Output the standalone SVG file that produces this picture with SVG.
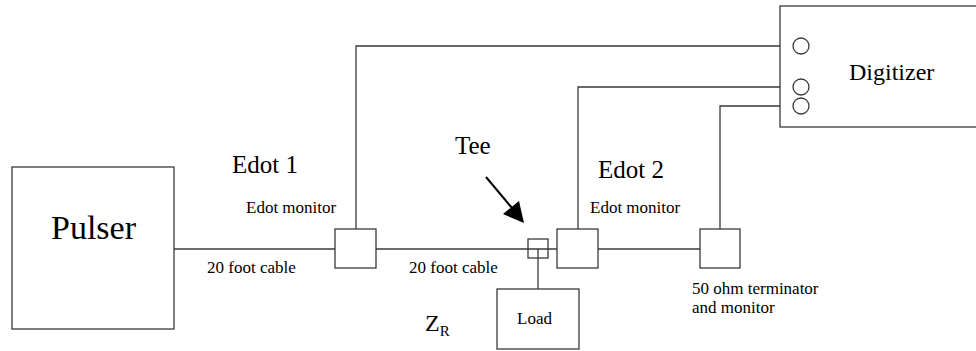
<svg xmlns="http://www.w3.org/2000/svg" width="976" height="351" viewBox="0 0 976 351">
<g id="connectors" fill="none" stroke="#3a3a3a" stroke-width="1.3">
<line x1="174" y1="249" x2="335" y2="249"/>
<line x1="376" y1="249" x2="557" y2="249"/>
<line x1="598" y1="249" x2="700" y2="249"/>
<polyline points="356,229 356,46 793,46"/>
<polyline points="578,229 578,87 793,87"/>
<polyline points="720,229 720,106 793,106"/>
<line x1="538" y1="249" x2="538" y2="289"/>
<line x1="486" y1="177" x2="512" y2="208" stroke="#000" stroke-width="2"/>
<polygon points="524,223 503,214 519,201" fill="#000" stroke="none"/>
</g>
<g id="pulser">
<rect x="12" y="167" width="162" height="162" fill="#fff" stroke="#3a3a3a" stroke-width="1.3"/>
<text x="51" y="239" font-family="Liberation Serif" font-size="34">Pulser</text>
</g>
<g id="digitizer">
<rect x="780" y="6" width="210" height="121" fill="#fff" stroke="#3a3a3a" stroke-width="1.3"/>
<circle cx="801" cy="46" r="8" fill="#fff" stroke="#3a3a3a" stroke-width="1.3"/>
<circle cx="801" cy="87" r="8" fill="#fff" stroke="#3a3a3a" stroke-width="1.3"/>
<circle cx="801" cy="106" r="8" fill="#fff" stroke="#3a3a3a" stroke-width="1.3"/>
<text x="849" y="80" font-family="Liberation Serif" font-size="24">Digitizer</text>
</g>
<g id="edot1">
<rect x="335" y="229" width="41" height="39" fill="#fff" stroke="#3a3a3a" stroke-width="1.3"/>
<text x="232" y="173" font-family="Liberation Serif" font-size="25">Edot 1</text>
<text x="246" y="212.5" font-family="Liberation Serif" font-size="17">Edot monitor</text>
</g>
<g id="tee">
<rect x="528" y="239" width="20" height="19" fill="none" stroke="#3a3a3a" stroke-width="1.3"/>
<text x="455" y="154" font-family="Liberation Serif" font-size="25">Tee</text>
</g>
<g id="edot2">
<rect x="557" y="229" width="41" height="39" fill="#fff" stroke="#3a3a3a" stroke-width="1.3"/>
<text x="598" y="178" font-family="Liberation Serif" font-size="25">Edot 2</text>
<text x="590" y="212.5" font-family="Liberation Serif" font-size="17">Edot monitor</text>
</g>
<g id="terminator">
<rect x="700" y="229" width="40" height="39" fill="#fff" stroke="#3a3a3a" stroke-width="1.3"/>
<text x="692" y="294" font-family="Liberation Serif" font-size="17">50 ohm terminator</text>
<text x="692" y="312.5" font-family="Liberation Serif" font-size="17">and monitor</text>
</g>
<g id="load">
<rect x="497" y="289" width="82" height="60" fill="#fff" stroke="#3a3a3a" stroke-width="1.3"/>
<text x="517" y="324" font-family="Liberation Serif" font-size="17">Load</text>
</g>
<g id="labels">
<text x="207" y="273" font-family="Liberation Serif" font-size="17">20 foot cable</text>
<text x="409" y="273" font-family="Liberation Serif" font-size="17">20 foot cable</text>
<text x="425" y="331" font-family="Liberation Serif" font-size="24">Z<tspan dy="5" font-size="15">R</tspan></text>
</g>
</svg>
